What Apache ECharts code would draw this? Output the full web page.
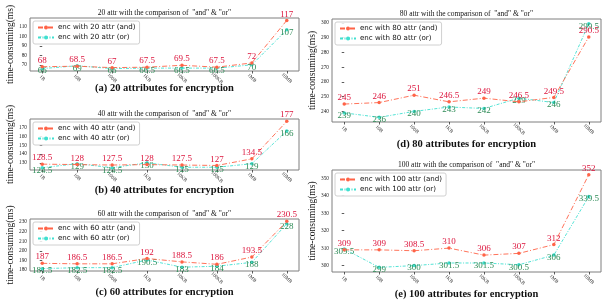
<!DOCTYPE html>
<html><head><meta charset="utf-8">
<script src="https://cdn.jsdelivr.net/npm/echarts@6/dist/echarts.min.js"></script>
<style>html,body{margin:0;padding:0;background:#fff}#c{width:603px;height:303px}</style>
</head><body><div id="c"></div>
<script>
const categories = ["1B","10B","100B","1KB","10KB","100KB","1MB","10MB"];
const attrs = [20, 40, 60, 80, 100];
const and20 = [68, 68.5, 67, 67.5, 69.5, 67.5, 72, 117];
const or20  = [66, 69, 66, 66.5, 66.5, 66.5, 70, 107];
const and40 = [128.5, 128, 127.5, 128, 127.5, 127, 134.5, 177];
const or40  = [124.5, 129, 124.5, 130, 125, 125, 129, 166];
const and60 = [187, 186.5, 186.5, 192, 188.5, 186, 193.5, 230.5];
const or60  = [181.5, 182.5, 182.5, 190.5, 183, 184, 188, 228];
const and80 = [245, 246, 251, 246.5, 249, 246.5, 249.5, 290.5];
const or80  = [239, 236, 240, 243, 242, 249, 246, 299.5];
const and100 = [309, 309, 308.5, 310, 306, 307, 312, 352];
const or100  = [309.5, 299, 300, 301.5, 301.5, 300.5, 306, 339.5];
const yTicks = [
  [70, 80, 90, 100, 110],
  [130, 140, 150, 160, 170],
  [180, 190, 200, 210, 220, 230],
  [240, 250, 260, 270, 280, 290, 300],
  [300, 310, 320, 330, 340, 350]
];
const captions = ["(a) 20 attributes for encryption","(b) 40 attributes for encryption","(c) 60 attributes for encryption","(d) 80 attributes for encryption","(e) 100 attributes for encryption"];

const andData = [and20, and40, and60, and80, and100];
const orData = [or20, or40, or60, or80, or100];

const grids = [
  {left: 30, top: 18, width: 269, height: 53},
  {left: 30, top: 119, width: 269, height: 51},
  {left: 30, top: 219, width: 269, height: 52},
  {left: 332, top: 19, width: 269, height: 103},
  {left: 332, top: 170, width: 269, height: 102}
];
const titleY = [13, 114, 214, 14, 165];
const capY = [88, 190, 292, 144, 294];

const SERIF = '"Liberation Serif","Times New Roman",serif';
const SANS = '"DejaVu Sans",sans-serif';
const RED = '#ff6347', CYAN = '#40e0d0';
const RED_T = '#dc143c', GREEN_T = '#2e8b57';

const option = {
  animation: false,
  backgroundColor: '#fff',
  grid: [], xAxis: [], yAxis: [], series: [], legend: [], graphic: []
};

attrs.forEach((a, k) => {
  const g = grids[k];
  option.grid.push(Object.assign({show: true, borderColor: '#7f7f7f', borderWidth: 1, backgroundColor: 'transparent'}, g));
  const all = andData[k].concat(orData[k]);
  const lo = Math.min(...all), hi = Math.max(...all), m = (hi - lo) * 0.05;
  option.xAxis.push({
    type: 'value', gridIndex: k, min: -0.35, max: 7.35,
    axisLine: {show: false}, splitLine: {show: false},
    axisTick: {show: true, length: 2.5, lineStyle: {color: '#333', width: 0.8}, customValues: [0,1,2,3,4,5,6,7]},
    axisLabel: {customValues: [0,1,2,3,4,5,6,7], formatter: v => categories[Math.round(v)],
      rotate: -45, align: 'center', verticalAlign: 'middle', margin: 7,
      fontSize: 5, fontFamily: SERIF, color: '#222'}
  });
  option.yAxis.push({
    type: 'value', gridIndex: k, min: lo - m, max: hi + m,
    name: 'time-consuming(ms)', nameLocation: 'middle', nameRotate: 90, nameGap: 9,
    nameTextStyle: {fontFamily: SERIF, fontSize: 9.5, color: '#111'},
    axisLine: {show: false}, splitLine: {show: false},
    axisTick: {show: true, length: 2.5, lineStyle: {color: '#333', width: 0.8}, customValues: yTicks[k]},
    axisLabel: {customValues: yTicks[k], fontSize: 5.3, fontFamily: SERIF, color: '#222', margin: 3}
  });
  const nAnd = 'enc with ' + a + ' attr (and)';
  const nOr = 'enc with ' + a + ' attr (or)';
  option.series.push({
    type: 'line', name: nAnd, xAxisIndex: k, yAxisIndex: k,
    data: andData[k].map((v, i) => [i, v]),
    symbol: 'circle', symbolSize: 3.5,
    itemStyle: {color: RED}, lineStyle: {color: RED, width: 0.9, type: [5, 2, 1, 2]},
    label: {show: true, position: 'top', distance: 0, formatter: p => p.value[1],
      fontFamily: SERIF, fontSize: 9, color: RED_T}, z: 3
  });
  option.series.push({
    type: 'line', name: nOr, xAxisIndex: k, yAxisIndex: k,
    data: orData[k].map((v, i) => [i, v]),
    symbol: 'circle', symbolSize: 3.5,
    itemStyle: {color: CYAN}, lineStyle: {color: CYAN, width: 0.9, type: [3, 1.5, 1, 1.5]},
    label: {show: true, position: 'inside', offset: [0, 2.5], formatter: p => p.value[1],
      fontFamily: SERIF, fontSize: 9, color: GREEN_T}, z: 2
  });
  option.legend.push({
    data: [nAnd, nOr], orient: 'vertical', left: g.left + 3, top: g.top + 3,
    itemWidth: 16, itemHeight: 5, itemGap: 3, padding: [3, 4, 3, 4],
    backgroundColor: 'rgba(255,255,255,0.85)', borderColor: '#d0d0d0', borderWidth: 1, borderRadius: 2,
    textStyle: {fontFamily: SANS, fontSize: 7.1, color: '#111', padding: [0, 0, 0, -1]},
    selectedMode: false
  });
  const cx = g.left + g.width / 2;
  option.graphic.push({type: 'text', x: cx, y: titleY[k], style: {
    text: a + ' attr with the comparison of  "and" & "or"', textAlign: 'center', textVerticalAlign: 'middle',
    font: '7.5px ' + SERIF, fill: '#111'}});
  option.graphic.push({type: 'text', x: cx, y: capY[k], style: {
    text: captions[k], textAlign: 'center', textVerticalAlign: 'middle',
    font: 'bold 10.5px ' + SERIF, fill: '#111'}});
});

const chart = echarts.init(document.getElementById('c'), null, {renderer: 'canvas'});
chart.setOption(option);
</script></body></html>
